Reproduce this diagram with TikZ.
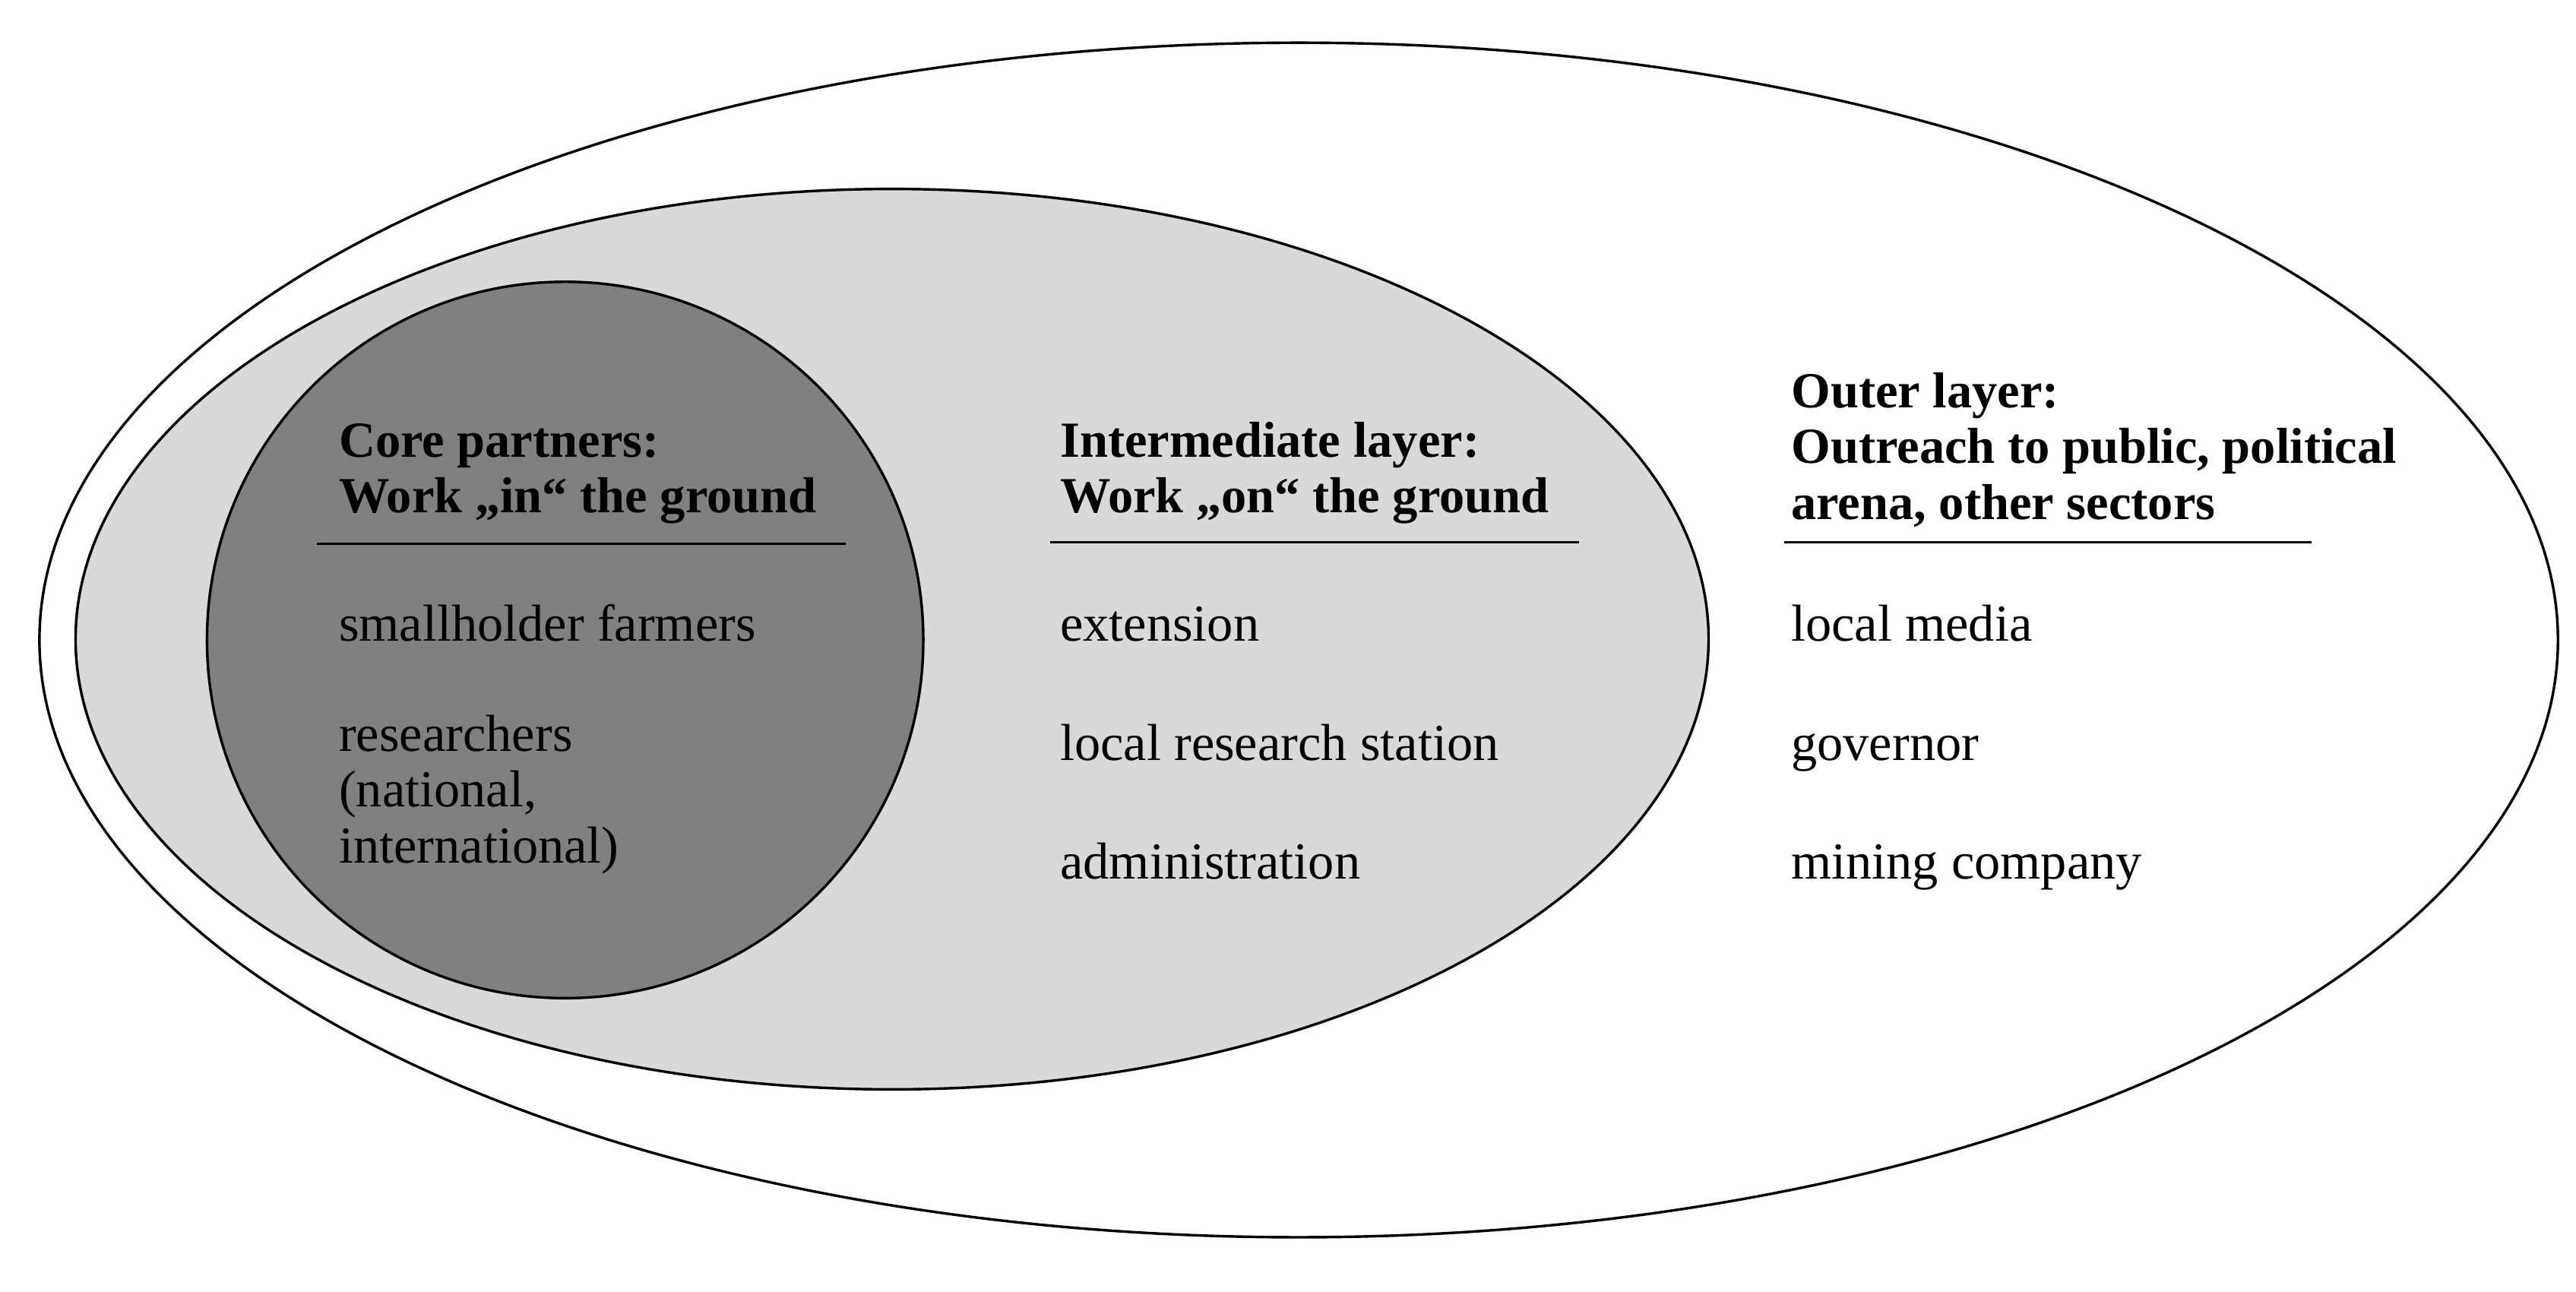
\documentclass[tikz,border=0pt]{standalone}
\usepackage{fontspec}
\setmainfont{Liberation Serif}
\begin{document}
\begin{tikzpicture}[x=0.02cm,y=-0.02cm,
  lay/.style={draw=black,line width=0.9pt},
  txt/.style={anchor=base west,align=left,inner sep=0pt,font=\fontsize{18}{19.3}\selectfont},
  head/.style={txt,font=\fontsize{17.5}{19.3}\selectfont\bfseries},
  rule/.style={line width=0.6pt}]
\useasboundingbox (0,0) rectangle (1568,786);
\fill[white] (0,0) rectangle (1568,786);
\draw[lay,fill=white] (790.5,389.5) ellipse [x radius=766.5,y radius=363.5];
\draw[lay,fill=black!15] (543,389) ellipse [x radius=497,y radius=274];
\draw[lay,fill=black!50] (344,389.5) circle [radius=218];
% core
\node[head] (ch) at (206,312) {Core partners:\\Work „in“ the ground};
\coordinate (c1) at (193,331); \coordinate (c2) at (515,331);
\draw[rule] (c1) -- (c2);
\node[txt] (ca) at (206,390) {smallholder farmers};
\node[txt] (cb) at (206,525) {researchers\\(national,\\international)};
% intermediate
\node[head] (ih) at (645,312) {Intermediate layer:\\Work „on“ the ground};
\coordinate (i1) at (639,330); \coordinate (i2) at (961,330);
\draw[rule] (i1) -- (i2);
\node[txt] (ia) at (645,390) {extension};
\node[txt] (ib) at (645,463) {local research station};
\node[txt] (ic) at (645,535) {administration};
% outer
\node[head] (oh) at (1090,316) {Outer layer:\\Outreach to public, political\\arena, other sectors};
\coordinate (o1) at (1086,330); \coordinate (o2) at (1407,330);
\draw[rule] (o1) -- (o2);
\node[txt] (oa) at (1090,390) {local media};
\node[txt] (ob) at (1090,463) {governor};
\node[txt] (oc) at (1090,535) {mining company};
\end{tikzpicture}
\end{document}
